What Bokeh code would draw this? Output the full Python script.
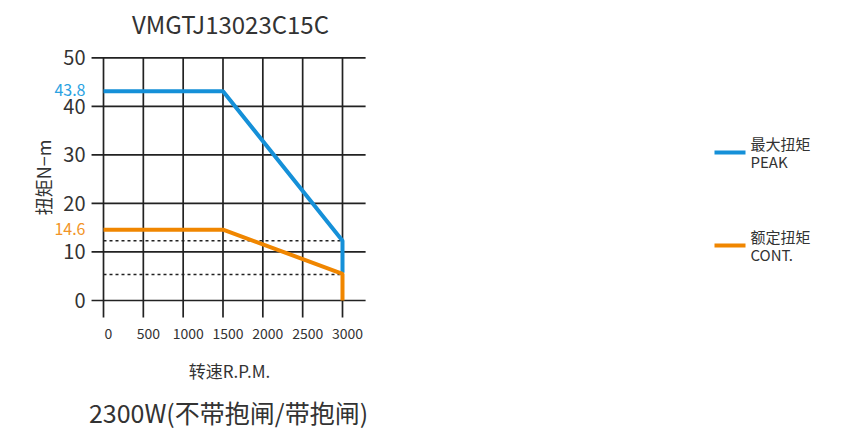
import math
from bokeh.plotting import figure
from bokeh.models import Range1d
from bokeh.core.properties import value
from bokeh.embed import file_html
from bokeh.resources import INLINE

FONT = "Noto Sans CJK SC"

title_text = "VMGTJ13023C15C"
subtitle_text = "2300W(不带抱闸/带抱闸)"
x_label = "转速R.P.M."
y_label = "扭矩N−m"

x_ticks = [0, 500, 1000, 1500, 2000, 2500, 3000]
y_ticks = [0, 10, 20, 30, 40, 50]

peak_rpm = [0, 1500, 3000, 3000]
peak_torque = [43.1, 43.1, 12.3, 5.7]
cont_rpm = [0, 1500, 3000, 3000]
cont_torque = [14.6, 14.6, 5.5, 0]

peak_label = "43.8"
cont_label = "14.6"
ref_levels = [12.3, 5.35]

legend_cn = ["最大扭矩", "额定扭矩"]
legend_en = ["PEAK", "CONT."]

BLUE = "#1590d8"
ORANGE = "#f08600"
BLUE_T = "#2aa2e2"
ORANGE_T = "#f29426"
TXT = "#333333"
GRID = "#222222"

XS = 3000 / 239.0   # data units per px (x)
YS = 50 / 242.7     # data units per px (y)
W, H = 850, 431
x0 = -103 * XS
x1 = (W - 103) * XS
y1 = 300 * YS
y0 = (300 - H) * YS

p = figure(width=W, height=H, output_backend="svg", toolbar_location=None,
           x_range=Range1d(x0, x1), y_range=Range1d(y0, y1),
           min_border=0, min_border_left=0, min_border_right=0,
           min_border_top=0, min_border_bottom=0)
p.outline_line_color = None
p.axis.visible = False
p.grid.visible = False
p.background_fill_color = "white"

gx_lo, gx_hi = -150, 3290
gy_lo, gy_hi = -3.5, 50
p.segment(x0=x_ticks, y0=[gy_lo] * len(x_ticks), x1=x_ticks, y1=[gy_hi] * len(x_ticks),
          line_color=GRID, line_width=1.7)
p.segment(x0=[gx_lo] * len(y_ticks), y0=y_ticks, x1=[gx_hi] * len(y_ticks), y1=y_ticks,
          line_color=GRID, line_width=1.7)

for lvl in ref_levels:
    p.line([0, 3000], [lvl, lvl], line_color="#222222", line_width=1.5, line_dash="3 3")

p.line(peak_rpm, peak_torque, line_color=BLUE, line_width=4)
p.line(cont_rpm, cont_torque, line_color=ORANGE, line_width=4)

def txt(x, y, t, size, color=TXT, align="center", baseline="middle", angle=0.0, x_offset=0):
    p.text(x=x, y=y, text=t, text_font=value(FONT), text_font_size=size,
           text_color=color, text_align=align, text_baseline=baseline, angle=angle,
           x_offset=x_offset)

txt(x_ticks, [-6.8] * len(x_ticks), [str(v) for v in x_ticks], "14px", x_offset=5)
txt([-18 * XS] * len(y_ticks), y_ticks, [str(v) for v in y_ticks], "20px", align="right")

txt([-18 * XS], [43.3], [peak_label], "16px", BLUE_T, align="right")
txt([-18 * XS], [14.8], [cont_label], "16px", ORANGE_T, align="right")

txt([127 * XS], [(300 - 23) * YS], [title_text], "24px")
txt([125 * XS], [(300 - 411) * YS], [subtitle_text], "25px")
txt([126 * XS], [(300 - 370) * YS], [x_label], "17px")
txt([-61 * XS], [(300 - 177) * YS], [y_label], "18px", angle=math.pi / 2)

leg_y = [(300 - 152) * YS, (300 - 245) * YS]
leg_col = [BLUE, ORANGE]
for cn, en, yv, col in zip(legend_cn, legend_en, leg_y, leg_col):
    p.line([(714 - 103) * XS, (745 - 103) * XS], [yv, yv], line_color=col, line_width=4)
    txt([(750 - 103) * XS], [yv + 9 * YS], [cn], "15px", align="left")
    txt([(750 - 103) * XS], [yv - 9 * YS], [en], "15px", align="left")

open("out.html", "w").write(file_html(p, INLINE))
